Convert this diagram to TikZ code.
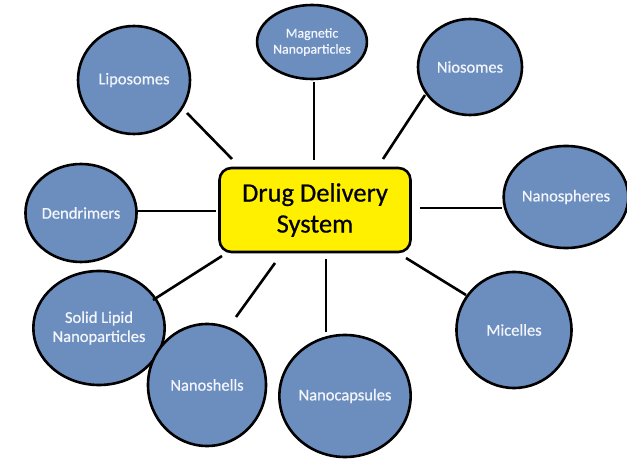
\documentclass[tikz,border=0pt]{standalone}
\usepackage{fontspec}
\setmainfont{Carlito}[FakeBold=0.6]
\usetikzlibrary{shapes.geometric}
\definecolor{bubble}{HTML}{6C8EBF}
\definecolor{bubbletext}{HTML}{F2F5FB}
\definecolor{boxyellow}{HTML}{FFF000}
\begin{document}
\begin{tikzpicture}[x=1pt,y=-1pt,
  bubblenode/.style={ellipse, draw=black, line width=2.6pt, fill=bubble, text=bubbletext,
    inner sep=0pt, align=center, font=\fontsize{16.5}{19}\selectfont},
  hub/.style={rectangle, rounded corners=12pt, draw=black, line width=2.6pt, fill=boxyellow,
    minimum width=191pt, minimum height=84pt, align=center, inner sep=0pt,
    font=\fontsize{26.5}{31}\selectfont},
  link/.style={line width=2.6pt, line cap=butt}]
\useasboundingbox (0,0) rectangle (627,470);
\fill[white] (0,0) rectangle (627,470);

\node[hub] (hub) at (315,210) {Drug Delivery\\System};

\node[bubblenode, minimum width=112pt, minimum height=108pt] (lip) at (134,80) {Liposomes};
\node[bubblenode, minimum width=94pt, minimum height=74pt, font=\fontsize{13.8}{16}\selectfont] (mag) at (312,42) {Magnetic\\Nanoparticles};
\node[bubblenode, minimum width=104pt, minimum height=96pt] (nio) at (470,67) {Niosomes};
\node[bubblenode, minimum width=106pt, minimum height=98pt] (den) at (81,213) {Dendrimers};
\node[bubblenode, minimum width=110pt, minimum height=102pt] (nsp) at (566,197) {Nanospheres};
\node[bubblenode, minimum width=112pt, minimum height=114pt] (sln) at (99,328) {Solid Lipid\\Nanoparticles};
\node[bubblenode, minimum width=118pt, minimum height=122pt] (nsh) at (207,385) {Nanoshells};
\node[bubblenode, minimum width=120pt, minimum height=122pt] (ncp) at (345,396) {Nanocapsules};
\node[bubblenode, minimum width=115pt, minimum height=116pt] (mic) at (514,330) {Micelles};

\coordinate (lipA) at (187,113); \coordinate (lipB) at (232,159);
\coordinate (magA) at (314,82);  \coordinate (magB) at (314,160);
\coordinate (nioA) at (425,95);  \coordinate (nioB) at (383,159);
\coordinate (denA) at (135,211); \coordinate (denB) at (216,211);
\coordinate (nspA) at (420,208); \coordinate (nspB) at (502,208);
\coordinate (slnA) at (153,300); \coordinate (slnB) at (222,256);
\coordinate (nshA) at (236,317); \coordinate (nshB) at (275,263);
\coordinate (ncpA) at (326,332); \coordinate (ncpB) at (326,259);
\coordinate (micA) at (466,295); \coordinate (micB) at (406,258);

\draw[link] (lipA) -- (lipB);
\draw[link] (magA) -- (magB);
\draw[link] (nioA) -- (nioB);
\draw[link] (denA) -- (denB);
\draw[link] (nspA) -- (nspB);
\draw[link] (slnA) -- (slnB);
\draw[link] (nshA) -- (nshB);
\draw[link] (ncpA) -- (ncpB);
\draw[link] (micA) -- (micB);
\end{tikzpicture}
\end{document}
